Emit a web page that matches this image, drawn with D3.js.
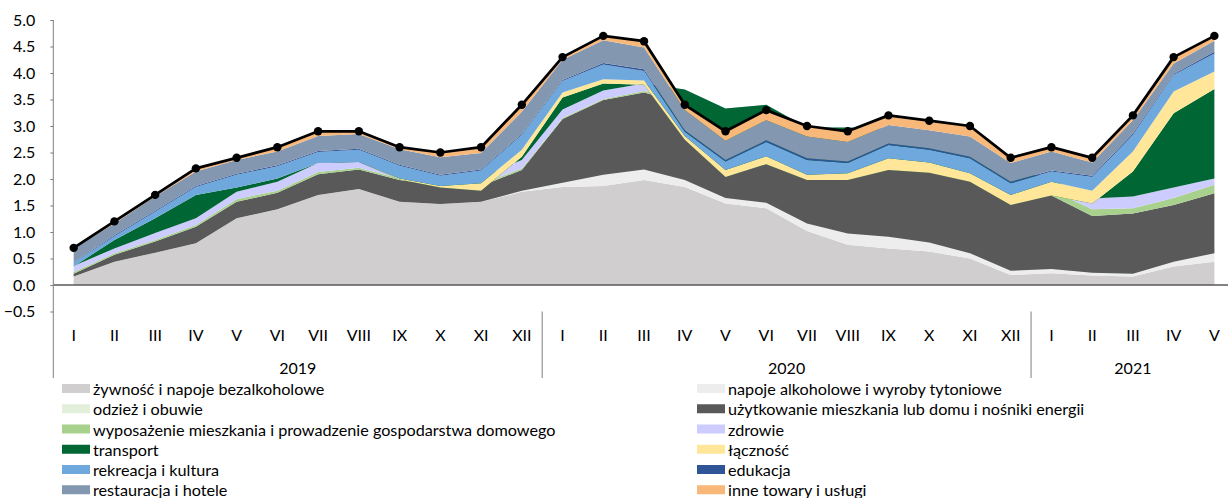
<!DOCTYPE html>
<html>
<head>
<meta charset="utf-8">
<script src="https://cdn.jsdelivr.net/npm/d3@7"></script>
<style>
  html, body { margin: 0; padding: 0; background: #fff; }
  svg { display: block; font-family: Lato, "Open Sans", sans-serif; }
</style>
</head>
<body>
<svg id="chart" width="1228" height="498"></svg>
<script>
// ---- data ----
const months = ["I","II","III","IV","V","VI","VII","VIII","IX","X","XI","XII",
                "I","II","III","IV","V","VI","VII","VIII","IX","X","XI","XII",
                "I","II","III","IV","V"];
const yearLabels = ["2019", "2020", "2021"];
const yearSpans = [12, 12, 5];

const food = [0.16,0.44,0.61,0.79,1.26,1.43,1.70,1.81,1.57,1.53,1.57,1.76,
              1.85,1.87,1.98,1.85,1.54,1.45,1.02,0.76,0.69,0.63,0.50,0.19,
              0.22,0.18,0.16,0.35,0.44];
const alcohol = [0.08,0.08,0.08,0.08,0.08,0.08,0.08,0.08,0.08,0.08,0.08,0.10,
                 0.16,0.29,0.28,0.21,0.18,0.18,0.22,0.29,0.30,0.25,0.18,0.16,
                 0.16,0.13,0.13,0.17,0.24];
const clothing = [-0.08,-0.08,-0.08,-0.08,-0.08,-0.08,-0.08,-0.08,-0.08,-0.08,-0.08,-0.08,
                  -0.08,-0.08,-0.08,-0.08,-0.08,-0.08,-0.08,-0.08,-0.08,-0.08,-0.08,-0.08,
                  -0.08,-0.08,-0.08,-0.08,-0.08];
const housing = [0.05,0.13,0.21,0.31,0.31,0.31,0.39,0.37,0.41,0.35,0.30,0.39,
                 1.20,1.41,1.45,1.45,1.42,1.56,1.52,1.72,1.75,1.74,1.78,1.67,
                 1.39,1.07,1.14,1.07,1.13];
const furnishing = [0.03,0.03,0.03,0.03,0.05,0.04,0.04,0.03,0.03,0.03,0.03,0.03,
                    0.02,0.02,0.03,0.06,0.07,0.08,0.08,0.08,0.08,0.08,0.08,0.08,
                    0.10,0.13,0.10,0.13,0.16];
const health = [0.12,0.09,0.13,0.13,0.14,0.17,0.17,0.13,0.13,0.13,0.13,0.16,
                0.16,0.16,0.14,0.20,0.20,0.21,0.21,0.20,0.21,0.21,0.21,0.21,
                0.20,0.20,0.22,0.20,0.12];
const transport = [0.00,0.16,0.28,0.44,0.08,0.06,0.00,-0.02,-0.15,-0.20,-0.25,0.06,
                   0.23,0.13,-0.02,-0.95,-1.29,-1.12,-0.99,-0.99,-0.78,-0.71,-0.72,-0.72,
                   -0.30,-0.09,0.47,1.40,1.69];
const communication = [-0.01,0.00,0.00,0.00,0.00,0.00,0.00,0.00,0.02,0.03,0.14,0.13,
                       0.09,0.08,0.08,0.07,0.13,0.15,0.10,0.13,0.22,0.19,0.16,0.19,
                       0.26,0.24,0.38,0.41,0.33];
const recreation = [0.07,0.07,0.12,0.15,0.24,0.23,0.21,0.23,0.24,0.19,0.24,0.28,
                    0.22,0.28,0.18,0.08,0.16,0.27,0.28,0.19,0.25,0.24,0.28,0.22,
                    0.19,0.26,0.31,0.31,0.34];
const education = [0.01,0.02,0.02,0.02,0.02,0.02,0.02,0.02,0.02,0.02,0.02,0.02,
                   0.02,0.03,0.03,0.03,0.03,0.03,0.03,0.03,0.03,0.03,0.03,0.03,
                   0.02,0.02,0.03,0.02,0.03];
const restaurants = [0.26,0.22,0.27,0.27,0.26,0.26,0.28,0.28,0.29,0.33,0.31,0.42,
                     0.38,0.43,0.41,0.38,0.36,0.38,0.41,0.37,0.35,0.34,0.38,0.35,
                     0.36,0.25,0.25,0.20,0.21];
const other = [0.01,0.04,0.03,0.06,0.04,0.08,0.09,0.05,0.04,0.09,0.11,0.13,
               0.05,0.08,0.12,0.10,0.18,0.19,0.20,0.20,0.18,0.18,0.20,0.10,
               0.08,0.09,0.09,0.12,0.09];
const total = [0.7,1.2,1.7,2.2,2.4,2.6,2.9,2.9,2.6,2.5,2.6,3.4,
               4.3,4.7,4.6,3.4,2.9,3.3,3.0,2.9,3.2,3.1,3.0,2.4,
               2.6,2.4,3.2,4.3,4.7];

const seriesNames = [
  "żywność i napoje bezalkoholowe",
  "napoje alkoholowe i wyroby tytoniowe",
  "odzież i obuwie",
  "użytkowanie mieszkania lub domu i nośniki energii",
  "wyposażenie mieszkania i prowadzenie gospodarstwa domowego",
  "zdrowie",
  "transport",
  "łączność",
  "rekreacja i kultura",
  "edukacja",
  "restauracja i hotele",
  "inne towary i usługi"
];
const seriesValues = [food, alcohol, clothing, housing, furnishing, health,
                      transport, communication, recreation, education, restaurants, other];
const seriesColors = ["#D0CECE","#EDEDED","#E2EFDA","#595959","#A9D18E","#CCCCFF",
                      "#006633","#FFE699","#6FA8DC","#2F5597","#8497B0","#F8B87A"];

// ---- layout ----
const svg = d3.select("#chart");
const FONT = "Lato, sans-serif";
const xLeft = 53.3, step = 40.74;
const n = months.length;
const x = d3.scaleBand().domain(d3.range(n)).range([xLeft, xLeft + n * step]).padding(0);
const cx = i => x(i) + x.bandwidth() / 2;
const y = d3.scaleLinear().domain([-0.5, 5]).range([311.5, 20]);

// rows for d3.stack
const rows = d3.range(n).map(i => {
  const r = {};
  seriesNames.forEach((name, k) => r[name] = seriesValues[k][i]);
  return r;
});
const stacked = d3.stack().keys(seriesNames).offset(d3.stackOffsetNone)(rows);

const area = d3.area()
  .x((d, i) => cx(i))
  .y0(d => y(d[0]))
  .y1(d => y(d[1]));

svg.append("g").selectAll("path")
  .data(stacked)
  .join("path")
  .attr("d", area)
  .attr("fill", (d, k) => seriesColors[k]);

// zero line
svg.append("line")
  .attr("x1", xLeft).attr("x2", 1228)
  .attr("y1", y(0)).attr("y2", y(0))
  .attr("stroke", "#595959").attr("stroke-width", 1.5);

// y axis
const yAxis = d3.axisLeft(y)
  .tickValues(d3.range(-0.5, 5.01, 0.5))
  .tickFormat(d3.format(".1f"))
  .tickSize(3).tickPadding(15);
const gy = svg.append("g").attr("transform", `translate(${xLeft},0)`).call(yAxis);
gy.select(".domain").remove();
gy.selectAll(".tick line").attr("stroke", "#7f7f7f");
gy.selectAll("text").attr("font-size", 16).attr("fill", "#000").attr("font-family", FONT);
svg.append("line")
  .attr("x1", xLeft).attr("x2", xLeft)
  .attr("y1", y(5)).attr("y2", 378)
  .attr("stroke", "#7f7f7f").attr("stroke-width", 1);

// month labels (category axis)
const xAxis = d3.axisBottom(x).tickFormat(i => months[i]).tickSize(0).tickPadding(0);
const gx = svg.append("g").attr("transform", `translate(0,335)`).call(xAxis);
gx.select(".domain").remove();
gx.selectAll("text").attr("font-size", 16).attr("fill", "#000")
  .attr("font-family", FONT).attr("dy", "0.35em").attr("y", 0);

// year groups and separators
let acc = 0;
yearLabels.forEach((lab, j) => {
  const start = acc, end = acc + yearSpans[j];
  const x0 = x(start), x1 = x(end - 1) + x.bandwidth();
  svg.append("text")
    .attr("x", (x0 + x1) / 2).attr("y", 367)
    .attr("text-anchor", "middle").attr("dominant-baseline", "central")
    .attr("font-size", 16).attr("fill", "#000").text(lab);
  if (j > 0) {
    svg.append("line")
      .attr("x1", x0).attr("x2", x0).attr("y1", 311.5).attr("y2", 378)
      .attr("stroke", "#7f7f7f").attr("stroke-width", 1);
  }
  acc = end;
});

// total line
const line = d3.line().x((d, i) => cx(i)).y(d => y(d));
svg.append("path").datum(total)
  .attr("d", line).attr("fill", "none")
  .attr("stroke", "#000").attr("stroke-width", 2.75).attr("stroke-linejoin", "round");
svg.append("g").selectAll("circle").data(total).join("circle")
  .attr("cx", (d, i) => cx(i)).attr("cy", d => y(d)).attr("r", 4.2).attr("fill", "#000");

// legend
const legCols = [{sx: 62, tx: 93}, {sx: 697, tx: 728}];
const legY0 = 388.5, legDy = 20.25;
const leg = svg.append("g");
seriesNames.forEach((name, k) => {
  const col = legCols[k % 2];
  const row = Math.floor(k / 2);
  const yy = legY0 + row * legDy;
  leg.append("rect").attr("x", col.sx).attr("y", yy - 4.5)
    .attr("width", 28).attr("height", 9).attr("fill", seriesColors[k]);
  leg.append("text").attr("x", col.tx).attr("y", yy)
    .attr("dominant-baseline", "central").attr("font-size", 16.2).attr("fill", "#000")
    .text(name);
});
</script>
</body>
</html>
